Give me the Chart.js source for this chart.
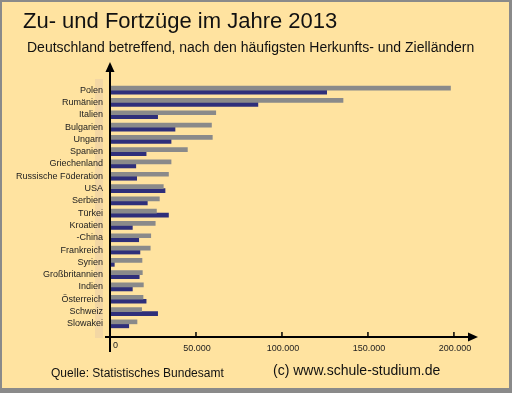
<!DOCTYPE html>
<html>
<head>
<meta charset="utf-8">
<title>Zu- und Fortzüge im Jahre 2013</title>
<script src="https://cdn.jsdelivr.net/npm/chart.js@4.4.1/dist/chart.umd.min.js"></script>
<style>
    html, body { margin: 0; padding: 0; background: #FFE3A0; }
    #wrap { width: 512px; height: 393px; position: relative; }
</style>
</head>
<body>
<div id="wrap"><canvas id="chart" width="512" height="393"></canvas></div>
<script>
var countries = ['Polen', 'Rumänien', 'Italien', 'Bulgarien', 'Ungarn', 'Spanien', 'Griechenland',
    'Russische Föderation', 'USA', 'Serbien', 'Türkei', 'Kroatien', '-China', 'Frankreich', 'Syrien',
    'Großbritannien', 'Indien', 'Österreich', 'Schweiz', 'Slowakei'];
var zuzuege = [198000, 135500, 61500, 59000, 59500, 45000, 35500, 34000, 31000, 28700,
    27000, 26300, 23700, 23400, 18600, 18800, 19400, 19200, 18400, 15700];
var fortzuege = [126000, 86000, 27700, 37800, 35500, 21000, 15000, 15500, 32000, 21700,
    34000, 13000, 16700, 17400, 2500, 17000, 13000, 21000, 27700, 10900];
var tickValues = [0, 50000, 100000, 150000, 200000];
var tickLabels = ['0', '50.000', '100.000', '150.000', '200.000'];

(function() {
    'use strict';

    var FONT = '"Liberation Sans", Arial, sans-serif';
    var BG = '#FFE3A0';

    // background, frame, shaded strip, axes with arrows and all free texts
    var decor = {
        id: 'decor',
        beforeDraw: function(chart) {
            var ctx = chart.ctx;
            var w = chart.width, h = chart.height;
            ctx.save();
            ctx.fillStyle = '#8A8A8A';
            ctx.fillRect(0, 0, w, h);
            ctx.fillStyle = BG;
            ctx.fillRect(2, 2, w - 5, h - 7);
            ctx.fillStyle = '#F3D7A4';
            ctx.fillRect(95, 79, 8, 259);
            ctx.restore();
        },
        afterDraw: function(chart) {
            var ctx = chart.ctx;
            var x = chart.scales.x;
            var area = chart.chartArea;
            var x0 = x.getPixelForValue(0);
            var axisY = 337;
            var tipX = area.right;
            ctx.save();
            ctx.strokeStyle = '#000';
            ctx.fillStyle = '#000';
            ctx.lineWidth = 2;
            ctx.beginPath();
            ctx.moveTo(x0, 70);
            ctx.lineTo(x0, 352);
            ctx.moveTo(105, axisY);
            ctx.lineTo(tipX - 8, axisY);
            ctx.stroke();
            // arrow heads
            ctx.beginPath();
            ctx.moveTo(x0, 62);
            ctx.lineTo(x0 - 4.5, 72);
            ctx.lineTo(x0 + 4.5, 72);
            ctx.closePath();
            ctx.fill();
            ctx.beginPath();
            ctx.moveTo(tipX, axisY);
            ctx.lineTo(tipX - 10, axisY - 4.5);
            ctx.lineTo(tipX - 10, axisY + 4.5);
            ctx.closePath();
            ctx.fill();
            // ticks and tick labels
            ctx.lineWidth = 1.5;
            ctx.font = '9px ' + FONT;
            ctx.fillStyle = '#222';
            for (var i = 0; i < tickValues.length; i++) {
                var px = x.getPixelForValue(tickValues[i]);
                if (i === 0) {
                    ctx.textAlign = 'left';
                    ctx.fillText(tickLabels[i], px + 3, 348);
                    continue;
                }
                ctx.beginPath();
                ctx.moveTo(px, axisY - 5);
                ctx.lineTo(px, axisY);
                ctx.stroke();
                ctx.textAlign = 'center';
                ctx.fillText(tickLabels[i], px + 1, 351);
            }
            // texts
            ctx.textAlign = 'left';
            ctx.fillStyle = '#111';
            ctx.font = '22px ' + FONT;
            ctx.fillText('Zu- und Fortzüge im Jahre 2013', 23, 28);
            ctx.font = '14px ' + FONT;
            ctx.fillText('Deutschland betreffend, nach den häufigsten Herkunfts- und Zielländern', 27, 52);
            ctx.font = '12px ' + FONT;
            ctx.fillText('Quelle: Statistisches Bundesamt', 51, 377);
            ctx.font = '14px ' + FONT;
            ctx.fillText('(c) www.schule-studium.de', 273, 375);
            ctx.restore();
        }
    };

    var ctx = document.getElementById('chart');
    new Chart(ctx, {
        type: 'bar',
        data: {
            labels: countries,
            datasets: [{
                label: 'Zuzüge',
                data: zuzuege,
                backgroundColor: '#8A8A8A',
                barThickness: 4
            }, {
                label: 'Fortzüge',
                data: fortzuege,
                backgroundColor: '#2F2F7A',
                barThickness: 4
            }]
        },
        options: {
            indexAxis: 'y',
            responsive: false,
            animation: false,
            layout: {
                padding: { left: 0, right: 34, top: 84, bottom: 63 }
            },
            plugins: {
                legend: { display: false },
                tooltip: { enabled: false }
            },
            scales: {
                x: {
                    display: false,
                    min: 0,
                    max: 214000
                },
                y: {
                    grid: { display: false, drawTicks: false },
                    border: { display: false },
                    ticks: {
                        color: '#222',
                        padding: 7,
                        autoSkip: false,
                        font: { family: FONT, size: 9 }
                    },
                    afterFit: function(scale) {
                        scale.width = 110;
                    }
                }
            }
        },
        plugins: [decor]
    });
})();
</script>
</body>
</html>
